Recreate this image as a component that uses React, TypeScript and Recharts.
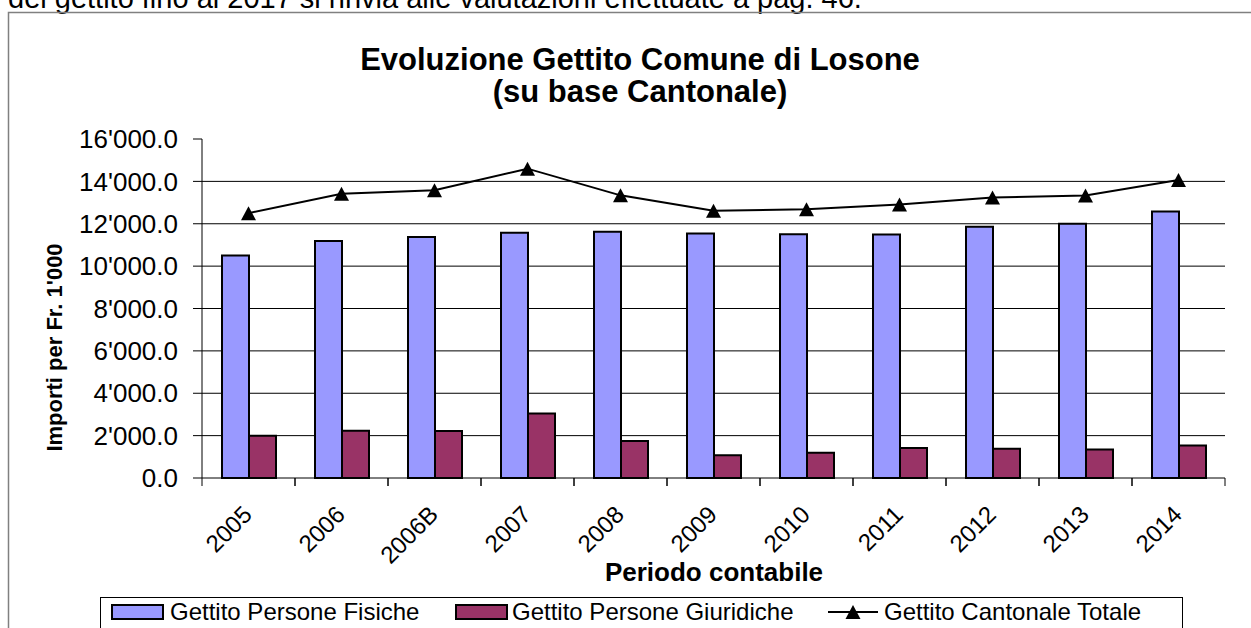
import React from 'react';
import { ComposedChart, Bar, Line, XAxis, YAxis, CartesianGrid } from 'recharts';

const categories = ['2005', '2006', '2006B', '2007', '2008', '2009', '2010', '2011', '2012', '2013', '2014'];
const personeFisiche = [10500, 11190, 11380, 11570, 11620, 11540, 11510, 11490, 11860, 12000, 12580];
const personeGiuridiche = [2000, 2230, 2220, 3050, 1750, 1070, 1190, 1420, 1380, 1340, 1530];
const cantonaleTotale = [12500, 13420, 13580, 14600, 13340, 12610, 12690, 12910, 13240, 13330, 14060];
const yTicks = [0, 2000, 4000, 6000, 8000, 10000, 12000, 14000, 16000];
const gridValues = [2000, 4000, 6000, 8000, 10000, 12000, 14000];

const seriesNames = ['Gettito Persone Fisiche', 'Gettito Persone Giuridiche', 'Gettito Cantonale Totale'];
const colors = { fisiche: '#9999FF', giuridiche: '#993366', totale: '#000000' };

const title1 = 'Evoluzione Gettito Comune di Losone';
const title2 = '(su base Cantonale)';
const yTitle = "Importi per Fr. 1'000";
const xTitle = 'Periodo contabile';
const topText = 'del gettito fino al 2017 si rinvia alle valutazioni effettuate a pag. 46.';

const data = categories.map((c, i) => ({
  cat: c,
  fisiche: personeFisiche[i],
  giuridiche: personeGiuridiche[i],
  totale: cantonaleTotale[i],
}));

const W = 1251;
const H = 628;
const PLOT_L = 202;
const PLOT_R = 1225;
const PLOT_T = 139;
const PLOT_B = 478;
const Y_AXIS_W = 100;
const X_AXIS_H = 100;
const HALF_BAND = (PLOT_R - PLOT_L) / categories.length / 2;
const FONT = '"Liberation Sans", Arial, Helvetica, sans-serif';

const fmt = (v: number) => {
  const s = v.toFixed(1);
  const [int, dec] = s.split('.');
  return int.replace(/\B(?=(\d{3})+(?!\d))/g, "'") + '.' + dec;
};

const TriangleDot = (props: any) => {
  const { cx, cy } = props;
  if (cx == null || cy == null) return null;
  return <path d={`M${cx},${cy - 7} L${cx + 7.5},${cy + 7} L${cx - 7.5},${cy + 7} Z`} fill="#000" />;
};

const XTick = (props: any) => {
  const { x, y, payload } = props;
  const tx = x + 5;
  const ty = y + 38;
  return (
    <g>
      <line x1={x - HALF_BAND} x2={x - HALF_BAND} y1={y} y2={y + 8} stroke="#000" strokeWidth={1} />
      <line x1={x + HALF_BAND} x2={x + HALF_BAND} y1={y} y2={y + 8} stroke="#000" strokeWidth={1} />
      <text x={tx} y={ty} transform={`rotate(-45, ${tx}, ${ty})`} textAnchor="end" fontSize={24} fontFamily={FONT} fill="#000">
        {payload.value}
      </text>
    </g>
  );
};

export default function App() {
  return (
    <div style={{ position: 'absolute', left: 0, top: 0, width: W, height: H, overflow: 'hidden', background: '#fff' }}>
      <ComposedChart
        width={W}
        height={H}
        data={data}
        margin={{ top: PLOT_T, right: W - PLOT_R, left: PLOT_L - Y_AXIS_W, bottom: H - PLOT_B - X_AXIS_H }}
        barGap={0}
        barCategoryGap="21%"
      >
        <CartesianGrid horizontal vertical={false} stroke="#000" strokeWidth={1} horizontalValues={gridValues} />
        <XAxis
          dataKey="cat"
          interval={0}
          height={X_AXIS_H}
          tickLine={false}
          tickSize={0}
          tickMargin={0}
          axisLine={{ stroke: '#000', strokeWidth: 1 }}
          tick={<XTick />}
        />
        <YAxis
          width={Y_AXIS_W}
          domain={[0, 16000]}
          ticks={yTicks}
          interval={0}
          tickFormatter={fmt}
          tickSize={9}
          tickMargin={15}
          axisLine={{ stroke: '#000', strokeWidth: 1 }}
          tickLine={{ stroke: '#000', strokeWidth: 1 }}
          tick={{ fill: '#000', fontSize: 26, fontFamily: FONT }}
        />
        <Bar dataKey="fisiche" name={seriesNames[0]} fill={colors.fisiche} stroke="#000" strokeWidth={2} barSize={27} isAnimationActive={false} />
        <Bar dataKey="giuridiche" name={seriesNames[1]} fill={colors.giuridiche} stroke="#000" strokeWidth={2} barSize={27} isAnimationActive={false} />
        <Line dataKey="totale" name={seriesNames[2]} stroke={colors.totale} strokeWidth={2} dot={<TriangleDot />} activeDot={false} isAnimationActive={false} />
      </ComposedChart>
      <svg width={W} height={H} style={{ position: 'absolute', left: 0, top: 0, pointerEvents: 'none' }} fontFamily={FONT}>
        <text x={8} y={8} fontSize={29} fill="#000">{topText}</text>
        <rect x={8.5} y={12.5} width={W + 20} height={H + 20} fill="none" stroke="#808080" strokeWidth={1.5} />
        <text x={640} y={70} textAnchor="middle" fontSize={31} fontWeight="bold" fill="#000">{title1}</text>
        <text x={640} y={102} textAnchor="middle" fontSize={31} fontWeight="bold" fill="#000">{title2}</text>
        <text x={62} y={347.5} textAnchor="middle" fontSize={22} fontWeight="bold" fill="#000" transform="rotate(-90, 62, 347.5)">{yTitle}</text>
        <text x={714} y={581} textAnchor="middle" fontSize={26} fontWeight="bold" fill="#000">{xTitle}</text>
        <g>
          <rect x={100.5} y={597.5} width={1082} height={40} fill="#fff" stroke="#000" strokeWidth={1} />
          <rect x={112} y={605} width={51} height={14} fill={colors.fisiche} stroke="#000" strokeWidth={2} />
          <text x={170} y={620} fontSize={24} fill="#000">{seriesNames[0]}</text>
          <rect x={456} y={605} width={51} height={14} fill={colors.giuridiche} stroke="#000" strokeWidth={2} />
          <text x={512} y={620} fontSize={24} fill="#000">{seriesNames[1]}</text>
          <line x1={828} x2={878} y1={612} y2={612} stroke="#000" strokeWidth={2} />
          <path d="M853,605 L860.5,619 L845.5,619 Z" fill="#000" />
          <text x={884} y={620} fontSize={24} fill="#000">{seriesNames[2]}</text>
        </g>
      </svg>
    </div>
  );
}
